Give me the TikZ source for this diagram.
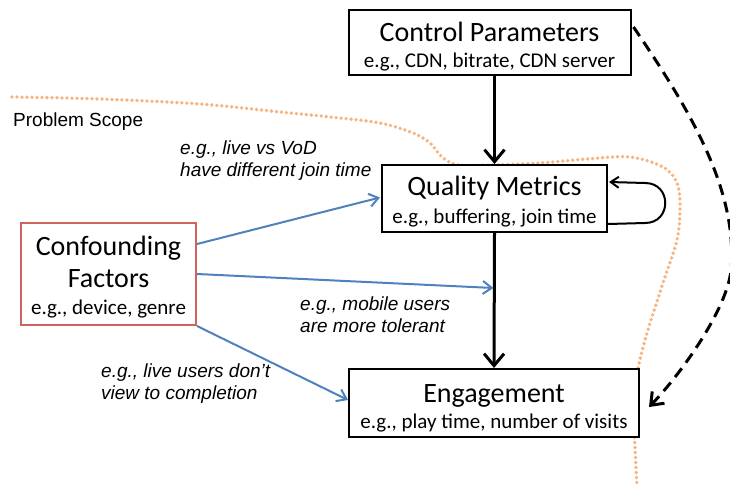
\documentclass[tikz,border=0pt]{standalone}
\usepackage{fontspec}
\setmainfont{Carlito}
\newfontfamily\arialfont{Liberation Sans}
\usetikzlibrary{arrows.meta,calc}
\definecolor{cfred}{RGB}{205,100,95}
\definecolor{arrblue}{RGB}{79,129,189}
\definecolor{peach}{RGB}{245,180,130}
\begin{document}
\begin{tikzpicture}[x=1pt,y=-1pt,
  box/.style={draw=black, line width=2pt, inner sep=0pt},
  cfbox/.style={draw=cfred, line width=2pt, inner sep=0pt},
  ttl/.style={font=\fontsize{28}{32}\selectfont, inner sep=0pt, anchor=base},
  subt/.style={font=\fontsize{21}{25}\selectfont, inner sep=0pt, anchor=base},
  lbl/.style={font=\arialfont\itshape\fontsize{19}{22}\selectfont, inner sep=0pt, anchor=base west},
  scopelbl/.style={font=\arialfont\fontsize{19}{22}\selectfont, inner sep=0pt, anchor=base west},
  blk/.style={line width=3pt, -{Straight Barb[length=12pt,width=20pt]}},
  blu/.style={draw=arrblue, line width=2pt, -{Straight Barb[length=9pt,width=13pt]}},
]
\useasboundingbox (0,0) rectangle (730,489);

% problem scope dotted curve
\draw[peach, line width=3.8pt, line cap=round, dash pattern=on 0pt off 5pt]
  plot[smooth, tension=0.55] coordinates {(12,97) (100,99) (200,104) (280,112) (330,117) (380,123) (413,133) (430,143) (442,157) (458,165) (490,165) (540,163) (587,159) (630,157) (663,167) (677,183) (680,207) (677,240) (663,283) (645,340) (636,380) (634,420) (637,487)};
\node[scopelbl] (scope) at (13,127) {Problem Scope};

% boxes
\node[box, fill=white, minimum width=282pt, minimum height=65pt] (cp) at (489.5,42.5) {};
\node[ttl] (cpt) at (489.5,42) {Control Parameters};
\node[subt] (cps) at (489.5,68) {e.g., CDN, bitrate, CDN server};

\node[box, fill=white, minimum width=225pt, minimum height=67pt] (qm) at (494.5,198.5) {};
\node[ttl] (qmt) at (494.5,196) {Quality Metrics};
\node[subt] (qms) at (494.5,223) {e.g., buffering, join time};

\node[cfbox, fill=white, minimum width=175pt, minimum height=102pt] (cf) at (108.5,274) {};
\node[ttl] (cft1) at (108.5,255) {Confounding};
\node[ttl] (cft2) at (108.5,287) {Factors};
\node[subt] (cfs) at (108.5,314) {e.g., device, genre};

\node[box, fill=white, minimum width=290pt, minimum height=68pt] (eng) at (494,403) {};
\node[ttl] (engt) at (494,402) {Engagement};
\node[subt] (engs) at (494,428) {e.g., play time, number of visits};

% black arrows
\draw[blk] (qm.north |- cp.south) -- (qm.north);
\draw[blk] (qm.south) -- (eng.north);

% self loop
\draw[line width=2pt, -{Straight Barb[length=8pt,width=11pt]}]
  ($(qm.south east)+(0,-9)$) -- (645,223) .. controls (672,223) and (672,183) .. (645,183) -- ($(qm.north east)+(1,18)$);

% dashed arrow
\draw[line width=3pt, dash pattern=on 11pt off 7pt, -{Straight Barb[length=11pt,width=17pt]}]
  ($(cp.north east)+(2,18)$) .. controls (690,110) and (738,190) .. (731,270)
  .. controls (727,310) and (680,375) .. ($(eng.east)+(9,4)$);

% blue arrows
\draw[blu] ($(cf.east)+(0,-30)$) -- ($(qm.west)+(-1,-1)$);
\draw[blu] (cf.east) -- ($(qm.south)+(-1,55)$);
\draw[blu] (cf.south east) -- ($(eng.west)+(0,-3)$);

% labels
\node[lbl] (l1a) at (180,155) {e.g., live vs VoD};
\node[lbl] (l1b) at (180,177) {have different join time};
\node[lbl] (l2a) at (300,310) {e.g., mobile users};
\node[lbl] (l2b) at (300,332) {are more tolerant};
\node[lbl] (l3a) at (101,377) {e.g., live users don’t};
\node[lbl] (l3b) at (101,399) {view to completion};
\end{tikzpicture}
\end{document}
